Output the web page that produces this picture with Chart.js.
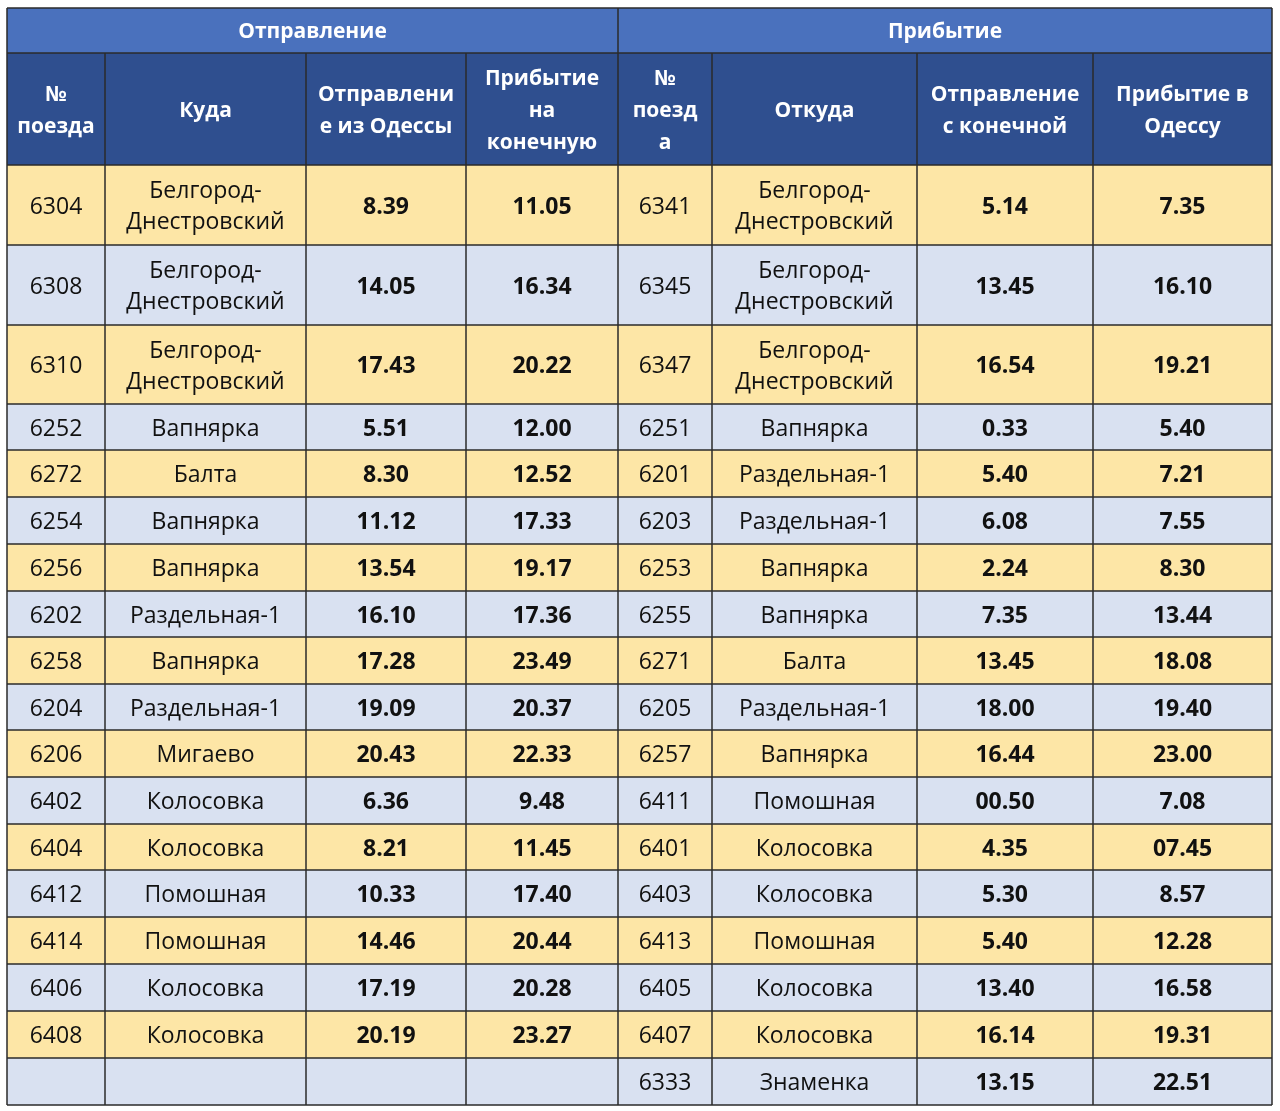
<!DOCTYPE html>
<html>
<head>
<meta charset="utf-8">
<script src="https://cdn.jsdelivr.net/npm/chart.js@4.4.1/dist/chart.umd.min.js"></script>
<style>
  html, body { margin: 0; background: #fff; }
  canvas { display: block; }
</style>
</head>
<body>
<canvas id="timetable" width="1280" height="1111"></canvas>
<script>
const groupTitles = ['Отправление', 'Прибытие'];
const columnTitles = [
    '№\nпоезда', 'Куда', 'Отправлени\nе из Одессы', 'Прибытие\nна\nконечную',
    '№\nпоезд\nа', 'Откуда', 'Отправление\nс конечной', 'Прибытие в\nОдессу'
];

// Отправление из Одессы
const depTrains = ['6304', '6308', '6310', '6252', '6272', '6254', '6256', '6202', '6258',
    '6204', '6206', '6402', '6404', '6412', '6414', '6406', '6408', ''];
const depTo = ['Белгород-Днестровский', 'Белгород-Днестровский', 'Белгород-Днестровский',
    'Вапнярка', 'Балта', 'Вапнярка', 'Вапнярка', 'Раздельная-1', 'Вапнярка', 'Раздельная-1',
    'Мигаево', 'Колосовка', 'Колосовка', 'Помошная', 'Помошная', 'Колосовка', 'Колосовка', ''];
const depLeave = ['8.39', '14.05', '17.43', '5.51', '8.30', '11.12', '13.54', '16.10', '17.28',
    '19.09', '20.43', '6.36', '8.21', '10.33', '14.46', '17.19', '20.19', ''];
const depArrive = ['11.05', '16.34', '20.22', '12.00', '12.52', '17.33', '19.17', '17.36', '23.49',
    '20.37', '22.33', '9.48', '11.45', '17.40', '20.44', '20.28', '23.27', ''];

// Прибытие в Одессу
const arrTrains = ['6341', '6345', '6347', '6251', '6201', '6203', '6253', '6255', '6271',
    '6205', '6257', '6411', '6401', '6403', '6413', '6405', '6407', '6333'];
const arrFrom = ['Белгород-Днестровский', 'Белгород-Днестровский', 'Белгород-Днестровский',
    'Вапнярка', 'Раздельная-1', 'Раздельная-1', 'Вапнярка', 'Вапнярка', 'Балта', 'Раздельная-1',
    'Вапнярка', 'Помошная', 'Колосовка', 'Колосовка', 'Помошная', 'Колосовка', 'Колосовка', 'Знаменка'];
const arrLeave = ['5.14', '13.45', '16.54', '0.33', '5.40', '6.08', '2.24', '7.35', '13.45',
    '18.00', '16.44', '00.50', '4.35', '5.30', '5.40', '13.40', '16.14', '13.15'];
const arrArrive = ['7.35', '16.10', '19.21', '5.40', '7.21', '7.55', '8.30', '13.44', '18.08',
    '19.40', '23.00', '7.08', '07.45', '8.57', '12.28', '16.58', '19.31', '22.51'];

// grid edges in table units (x: 0..1265, y: 0..1097, top to bottom)
const colEdges = [0, 98, 299, 459, 611, 705, 910, 1086, 1265];
const rowEdges = [0, 45, 157, 237, 317, 396, 442, 489, 536, 583, 629, 676, 722, 769, 816,
    862, 909, 956, 1003, 1050, 1097];

const FONT = '"Open Sans", "Noto Sans", sans-serif';
const boldCols = [2, 3, 6, 7];

const rows = depTrains.map((t, i) => [
    t, depTo[i], depLeave[i], depArrive[i],
    arrTrains[i], arrFrom[i], arrLeave[i], arrArrive[i]
]);

function drawLines(ctx, lines, cx, cy, lh) {
    const top = cy - (lines.length - 1) * lh / 2;
    lines.forEach((l, k) => ctx.fillText(l, cx, top + k * lh));
}

const tablePlugin = {
    id: 'tableCells',
    afterDatasetsDraw(chart) {
        const { ctx, scales: { x, y } } = chart;
        const px = v => x.getPixelForValue(v);
        const py = v => y.getPixelForValue(v);

        ctx.save();
        ctx.textAlign = 'center';
        ctx.textBaseline = 'middle';

        // top group header
        ctx.fillStyle = '#4a71bd';
        ctx.fillRect(px(0), py(rowEdges[0]), px(1265) - px(0), py(rowEdges[1]) - py(rowEdges[0]));
        ctx.fillStyle = '#ffffff';
        ctx.font = 'bold 21px ' + FONT;
        groupTitles.forEach((g, k) => {
            const c0 = colEdges[k * 4], c1 = colEdges[k * 4 + 4];
            ctx.fillText(g, (px(c0) + px(c1)) / 2, (py(rowEdges[0]) + py(rowEdges[1])) / 2 + 2);
        });

        // column headers
        ctx.fillStyle = '#2f4f8f';
        ctx.fillRect(px(0), py(rowEdges[1]), px(1265) - px(0), py(rowEdges[2]) - py(rowEdges[1]));
        ctx.fillStyle = '#ffffff';
        ctx.font = 'bold 21px ' + FONT;
        columnTitles.forEach((t, c) => {
            const cx = (px(colEdges[c]) + px(colEdges[c + 1])) / 2;
            const cy = (py(rowEdges[1]) + py(rowEdges[2])) / 2 + 2;
            drawLines(ctx, t.split('\n'), cx, cy, 32);
        });

        // body rows
        rows.forEach((cells, r) => {
            const y0 = py(rowEdges[r + 2]), y1 = py(rowEdges[r + 3]);
            ctx.fillStyle = r % 2 === 0 ? '#fde6a6' : '#d9e1f1';
            ctx.fillRect(px(0), y0, px(1265) - px(0), y1 - y0);
            cells.forEach((txt, c) => {
                if (!txt) return;
                const x0 = px(colEdges[c]), x1 = px(colEdges[c + 1]);
                ctx.fillStyle = '#111111';
                ctx.font = (boldCols.includes(c) ? 'bold ' : '') + '23px ' + FONT;
                let lines = [txt];
                if (ctx.measureText(txt).width > x1 - x0 - 8 && txt.includes('-')) {
                    const k = txt.indexOf('-') + 1;
                    lines = [txt.slice(0, k), txt.slice(k)];
                }
                drawLines(ctx, lines, (x0 + x1) / 2, (y0 + y1) / 2 + 2, 31);
            });
        });

        // grid lines
        ctx.strokeStyle = '#2b2b2b';
        ctx.lineWidth = 1.5;
        ctx.beginPath();
        rowEdges.forEach(v => {
            ctx.moveTo(px(0), py(v));
            ctx.lineTo(px(1265), py(v));
        });
        colEdges.forEach((v, c) => {
            const start = (c === 0 || c === 4 || c === 8) ? rowEdges[0] : rowEdges[1];
            ctx.moveTo(px(v), py(start));
            ctx.lineTo(px(v), py(rowEdges[rowEdges.length - 1]));
        });
        ctx.stroke();
        ctx.restore();
    }
};

new Chart(document.getElementById('timetable'), {
    type: 'scatter',
    data: { datasets: [{ data: [] }] },
    options: {
        responsive: false,
        animation: false,
        layout: { padding: { left: 7, top: 8, right: 8, bottom: 6 } },
        scales: {
            x: { type: 'linear', min: 0, max: 1265, display: false },
            y: { type: 'linear', min: 0, max: 1097, reverse: true, display: false }
        },
        plugins: { legend: { display: false }, tooltip: { enabled: false } }
    },
    plugins: [tablePlugin]
});
</script>
</body>
</html>
